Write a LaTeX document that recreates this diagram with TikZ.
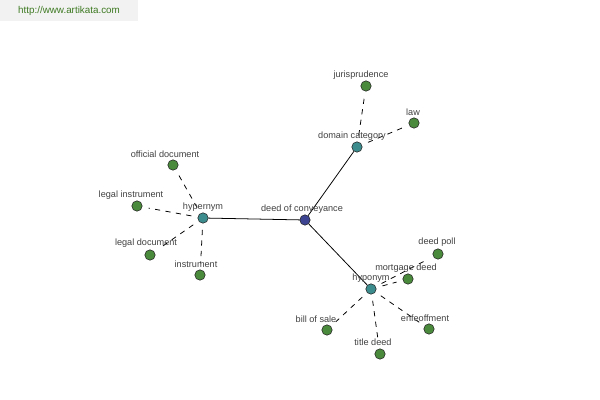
\documentclass[tikz,border=0pt]{standalone}
\usepackage{fontspec}
\setmainfont{Liberation Sans}
\usetikzlibrary{positioning}
\definecolor{rootblue}{HTML}{3D4592}
\definecolor{hubteal}{HTML}{3C8C8E}
\definecolor{leafgreen}{HTML}{4A8A3C}
\definecolor{urlgreen}{HTML}{3E7A22}
\definecolor{lblgray}{HTML}{404040}

\begin{document}
\begin{tikzpicture}[
  x=0.025cm, y=-0.025cm,
  dot/.style={circle, draw=black!85, line width=0.4pt, minimum size=0.26cm, inner sep=0pt},
  rootdot/.style={dot, fill=rootblue},
  hubdot/.style={dot, fill=hubteal},
  leafdot/.style={dot, fill=leafgreen},
  lbl/.style={font=\fontsize{6.5}{7}\selectfont, text=lblgray, inner sep=0pt},
  link/.style={line width=0.55pt},
  dlink/.style={line width=0.55pt, dash pattern=on 3.7pt off 3.8pt,
                shorten <=0.16cm, shorten >=0.16cm}
]
\useasboundingbox (0,0) rectangle (600,400);

\fill[gray!10] (0,0) rectangle (138,21);
\node[font=\fontsize{7}{8}\selectfont, text=urlgreen] (url) at (69,11) {http://www.artikata.com};

% centre and the three hubs
\node[rootdot] (deed)   at (305,220) {};
\node[hubdot]  (hyper)  at (203,218) {};
\node[hubdot]  (domain) at (357,147) {};
\node[hubdot]  (hypo)   at (371,289) {};

% leaves
\node[leafdot] (offdoc)  at (173,165) {};
\node[leafdot] (legins)  at (137,206) {};
\node[leafdot] (legdoc)  at (150,255) {};
\node[leafdot] (instr)   at (200,275) {};
\node[leafdot] (juris)   at (366,86)  {};
\node[leafdot] (law)     at (414,123) {};
\node[leafdot] (poll)    at (438,254) {};
\node[leafdot] (mortg)   at (408,279) {};
\node[leafdot] (enfeoff) at (429,329) {};
\node[leafdot] (title)   at (380,354) {};
\node[leafdot] (sale)    at (327,330) {};

\draw[link] (deed) -- (hyper);
\draw[link] (deed) -- (domain);
\draw[link] (deed) -- (hypo);

\foreach \leaf in {offdoc,legins,legdoc,instr}
  \draw[dlink] (hyper) -- (\leaf);
\foreach \leaf in {juris,law}
  \draw[dlink] (domain) -- (\leaf);
\foreach \leaf in {poll,mortg,enfeoff,title,sale}
  \draw[dlink] (hypo) -- (\leaf);

% labels
\node[lbl] (deedlbl)    at (302,209) {deed of conveyance};
\node[lbl] (hyperlbl)   at (203,207) {hypernym};
\node[lbl] (domainlbl)  at (352,136) {domain category};
\node[lbl] (hypolbl)    at (371,278) {hyponym};
\node[lbl] (offdoclbl)  at (165,154) {official document};
\node[lbl] (leginslbl)  at (131,195) {legal instrument};
\node[lbl] (legdoclbl)  at (146,243) {legal document};
\node[lbl] (instrlbl)   at (196,264) {instrument};
\node[lbl] (jurislbl)   at (361,75)  {jurisprudence};
\node[lbl] (lawlbl)     at (413,112) {law};
\node[lbl] (polllbl)    at (437,242) {deed poll};
\node[lbl] (mortglbl)   at (406,268) {mortgage deed};
\node[lbl] (enfeofflbl) at (425,318) {enfeoffment};
\node[lbl] (titlelbl)   at (373,342) {title deed};
\node[lbl] (salelbl)    at (316,319) {bill of sale};
\end{tikzpicture}
\end{document}
